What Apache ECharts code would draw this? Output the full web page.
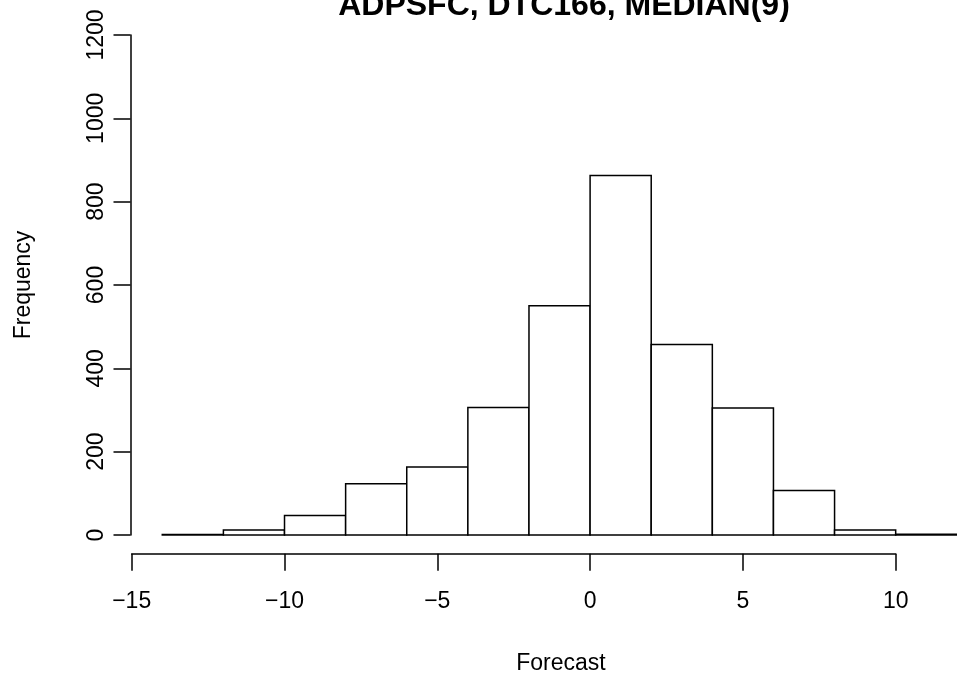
<!DOCTYPE html>
<html>
<head>
<meta charset="utf-8">
<script src="https://cdn.jsdelivr.net/npm/echarts@6/dist/echarts.min.js"></script>
<style>
html,body{margin:0;padding:0;background:#fff;}
#chart{width:957px;height:681px;}
</style>
</head>
<body>
<div id="chart"></div>
<script>
// Histogram bin edges and counts
const breaks = [-14, -12, -10, -8, -6, -4, -2, 0, 2, 4, 6, 8, 10, 12];
const counts = [1, 12, 47, 123, 163, 306, 550, 863, 457, 305, 107, 12, 2];
const xTicks = [-15, -10, -5, 0, 5, 10];
const yTicks = [0, 200, 400, 600, 800, 1000, 1200];
const titleText = 'ADPSFC, DTC166, MEDIAN(9)';
const xLabel = 'Forecast';
const yLabel = 'Frequency';

const FONT = '"Liberation Sans", Arial, Helvetica, sans-serif';
const histData = counts.map((c, i) => [breaks[i], breaks[i + 1], c]);

const chart = echarts.init(document.getElementById('chart'), null, {renderer: 'canvas'});
const lw = 1.5;
chart.setOption({
  animation: false,
  backgroundColor: '#ffffff',
  grid: [
    {left: 130.5, top: 35, width: 826.3, height: 500, containLabel: false},
    {left: 131.7, top: 35, width: 764, height: 518.7, containLabel: false}
  ],
  xAxis: [
    {gridIndex: 0, type: 'value', min: -15.04, max: 12, show: false},
    {
      gridIndex: 1, type: 'value', min: xTicks[0], max: xTicks[xTicks.length - 1], interval: 5,
      position: 'bottom',
      axisLine: {show: true, onZero: false, lineStyle: {color: '#000', width: lw}},
      axisTick: {show: true, inside: false, length: 17, lineStyle: {color: '#000', width: lw}},
      axisLabel: {
        show: true, margin: 36, color: '#000', fontSize: 23, fontFamily: FONT,
        formatter: v => String(v).replace('-', '\u2212')
      },
      splitLine: {show: false}
    }
  ],
  yAxis: [
    {
      gridIndex: 0, type: 'value', min: yTicks[0], max: yTicks[yTicks.length - 1], interval: 200,
      position: 'left',
      axisLine: {show: true, onZero: false, lineStyle: {color: '#000', width: lw}},
      axisTick: {show: true, inside: false, length: 17, lineStyle: {color: '#000', width: lw}},
      axisLabel: {show: true, margin: 22, rotate: 90, color: '#000', fontSize: 23, fontFamily: FONT,
        formatter: v => String(v)},
      splitLine: {show: false},
      name: yLabel, nameLocation: 'middle', nameRotate: 90, nameGap: 95,
      nameTextStyle: {color: '#000', fontSize: 23, fontFamily: FONT}
    },
    {gridIndex: 1, type: 'value', min: 0, max: 1, show: false}
  ],
  graphic: [
    {
      type: 'text', x: 564, y: 6.5,
      style: {text: titleText, fill: '#000', font: 'bold 32px ' + FONT, textAlign: 'center', textVerticalAlign: 'middle', verticalAlign: 'middle'}
    },
    {
      type: 'text', x: 561, y: 664,
      style: {text: xLabel, fill: '#000', font: '23px ' + FONT, textAlign: 'center', textVerticalAlign: 'middle', verticalAlign: 'middle'}
    }
  ],
  series: [{
    type: 'custom',
    xAxisIndex: 0, yAxisIndex: 0,
    clip: false,
    data: histData,
    encode: {x: [0, 1], y: 2},
    renderItem: function (params, api) {
      const x0 = api.value(0), x1 = api.value(1), y = api.value(2);
      const p0 = api.coord([x0, y]);
      const p1 = api.coord([x1, 0]);
      return {
        type: 'rect',
        shape: {x: p0[0], y: p0[1], width: p1[0] - p0[0], height: p1[1] - p0[1]},
        style: {fill: '#ffffff', stroke: '#000000', lineWidth: lw}
      };
    }
  }]
});
</script>
</body>
</html>
